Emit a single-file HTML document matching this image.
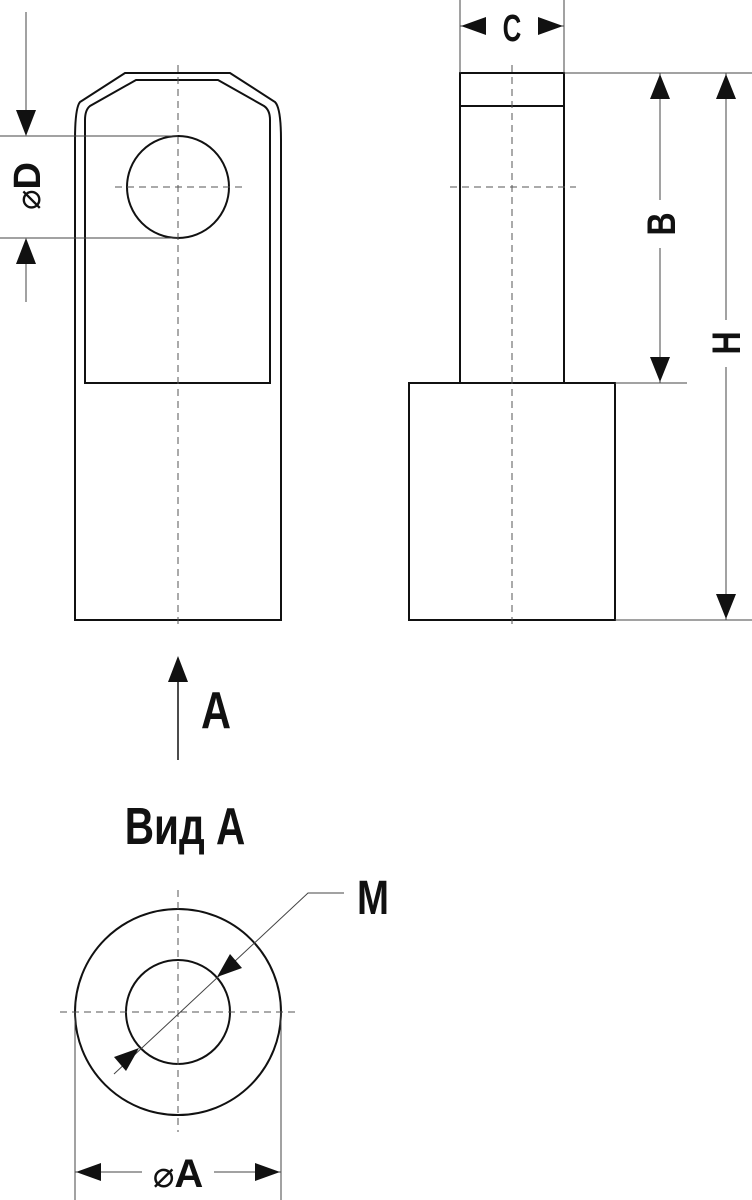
<!DOCTYPE html>
<html><head><meta charset="utf-8"><style>
html,body{margin:0;padding:0;background:#fff;}
svg{display:block;}
text{font-family:"Liberation Sans",sans-serif;font-weight:bold;fill:#111;}
.t{fill:none;stroke:#111;stroke-width:2;}
.d{fill:none;stroke:#555;stroke-width:1;stroke-dasharray:7,5;}
.f{fill:none;stroke:#444;stroke-width:1;}
.a{fill:#111;stroke:none;}
</style></head><body>
<svg width="752" height="1200" viewBox="0 0 752 1200" xmlns="http://www.w3.org/2000/svg">
<!-- Left view -->
<path class="t" d="M75,620 L75,140 Q75,108 80,102 L125,73 L230,73 L275,102 Q281,108 281,140 L281,620 Z"/>
<path class="t" d="M85,383 L85,120 Q85,110 90,106 L136,80 L218,80 L264,106 Q270,110 270,120 L270,383 Z"/>
<circle class="t" cx="178" cy="187" r="51"/>
<line class="d" x1="178" y1="65" x2="178" y2="628"/>
<line class="d" x1="115" y1="187" x2="242" y2="187"/>
<!-- ØD -->
<line class="f" x1="0" y1="136" x2="178" y2="136"/>
<line class="f" x1="0" y1="238" x2="178" y2="238"/>
<line class="f" x1="26" y1="12" x2="26" y2="120"/>
<polygon class="a" points="16,110 36,110 26,136"/>
<line class="f" x1="26" y1="255" x2="26" y2="302"/>
<polygon class="a" points="16,264 36,264 26,238"/>
<text transform="translate(40,210) rotate(-90)" font-size="38"><tspan font-weight="normal" font-family="DejaVu Sans" font-size="34">⌀</tspan><tspan>D</tspan></text>

<!-- Right view -->
<rect class="t" x="460" y="73" width="104" height="310"/>
<line class="t" x1="460" y1="106" x2="564" y2="106"/>
<rect class="t" x="409" y="383" width="206" height="237"/>
<line class="d" x1="512" y1="65" x2="512" y2="628"/>
<line class="d" x1="450" y1="187" x2="576" y2="187"/>
<!-- C -->
<line class="f" x1="460" y1="0" x2="460" y2="73"/>
<line class="f" x1="564" y1="0" x2="564" y2="73"/>
<line class="f" x1="460" y1="26" x2="486" y2="26"/>
<line class="f" x1="540" y1="26" x2="564" y2="26"/>
<polygon class="a" points="461,26 486,17 486,35"/>
<polygon class="a" points="563,26 538,17 538,35"/>
<text x="512" y="41" font-size="38" text-anchor="middle" transform="translate(512,0) scale(0.68,1) translate(-512,0)">C</text>
<!-- B / H extension -->
<line class="f" x1="564" y1="73" x2="752" y2="73"/>
<line class="f" x1="615" y1="383" x2="687" y2="383"/>
<line class="f" x1="615" y1="620" x2="752" y2="620"/>
<line class="f" x1="660" y1="73" x2="660" y2="200"/>
<line class="f" x1="660" y1="248" x2="660" y2="383"/>
<polygon class="a" points="660,74 650,99 670,99"/>
<polygon class="a" points="660,382 650,357 670,357"/>
<g transform="translate(675,224) rotate(-90) scale(0.8,1)"><text font-size="40" text-anchor="middle">B</text></g>
<line class="f" x1="726" y1="73" x2="726" y2="320"/>
<line class="f" x1="726" y1="367" x2="726" y2="620"/>
<polygon class="a" points="726,74 716,99 736,99"/>
<polygon class="a" points="726,619 716,594 736,594"/>
<g transform="translate(740,343) rotate(-90) scale(0.8,1)"><text font-size="40" text-anchor="middle">H</text></g>

<!-- Arrow A -->
<line x1="178" y1="680" x2="178" y2="760" stroke="#111" stroke-width="1.5"/>
<polygon class="a" points="178,656 168,682 188,682"/>
<text x="216" y="728" font-size="52" text-anchor="middle" transform="translate(216,0) scale(0.8,1) translate(-216,0)">A</text>
<text x="185" y="844" font-size="52" text-anchor="middle" transform="translate(185,0) scale(0.78,1) translate(-185,0)">Вид A</text>

<!-- Bottom view -->
<circle class="t" cx="178" cy="1012" r="103"/>
<circle class="t" cx="178" cy="1012" r="52"/>
<line class="d" x1="60" y1="1012" x2="298" y2="1012"/>
<line class="d" x1="178" y1="890" x2="178" y2="1132"/>
<polyline class="f" points="114,1074 308,893 344,893"/>
<polygon class="a" points="217,977 230,954 242,968"/>
<polygon class="a" points="139,1048 126,1071 114,1057"/>
<text x="373" y="914" font-size="48" text-anchor="middle" transform="translate(373,0) scale(0.8,1) translate(-373,0)">M</text>
<!-- ØA -->
<line class="f" x1="75" y1="1012" x2="75" y2="1200"/>
<line class="f" x1="281" y1="1012" x2="281" y2="1200"/>
<line class="f" x1="75" y1="1172" x2="142" y2="1172"/>
<line class="f" x1="214" y1="1172" x2="281" y2="1172"/>
<polygon class="a" points="76,1172 101,1163 101,1181"/>
<polygon class="a" points="280,1172 255,1163 255,1181"/>
<text x="178" y="1187" font-size="40" text-anchor="middle"><tspan font-weight="normal" font-family="DejaVu Sans" font-size="36">⌀</tspan><tspan>A</tspan></text>
</svg>
</body></html>
